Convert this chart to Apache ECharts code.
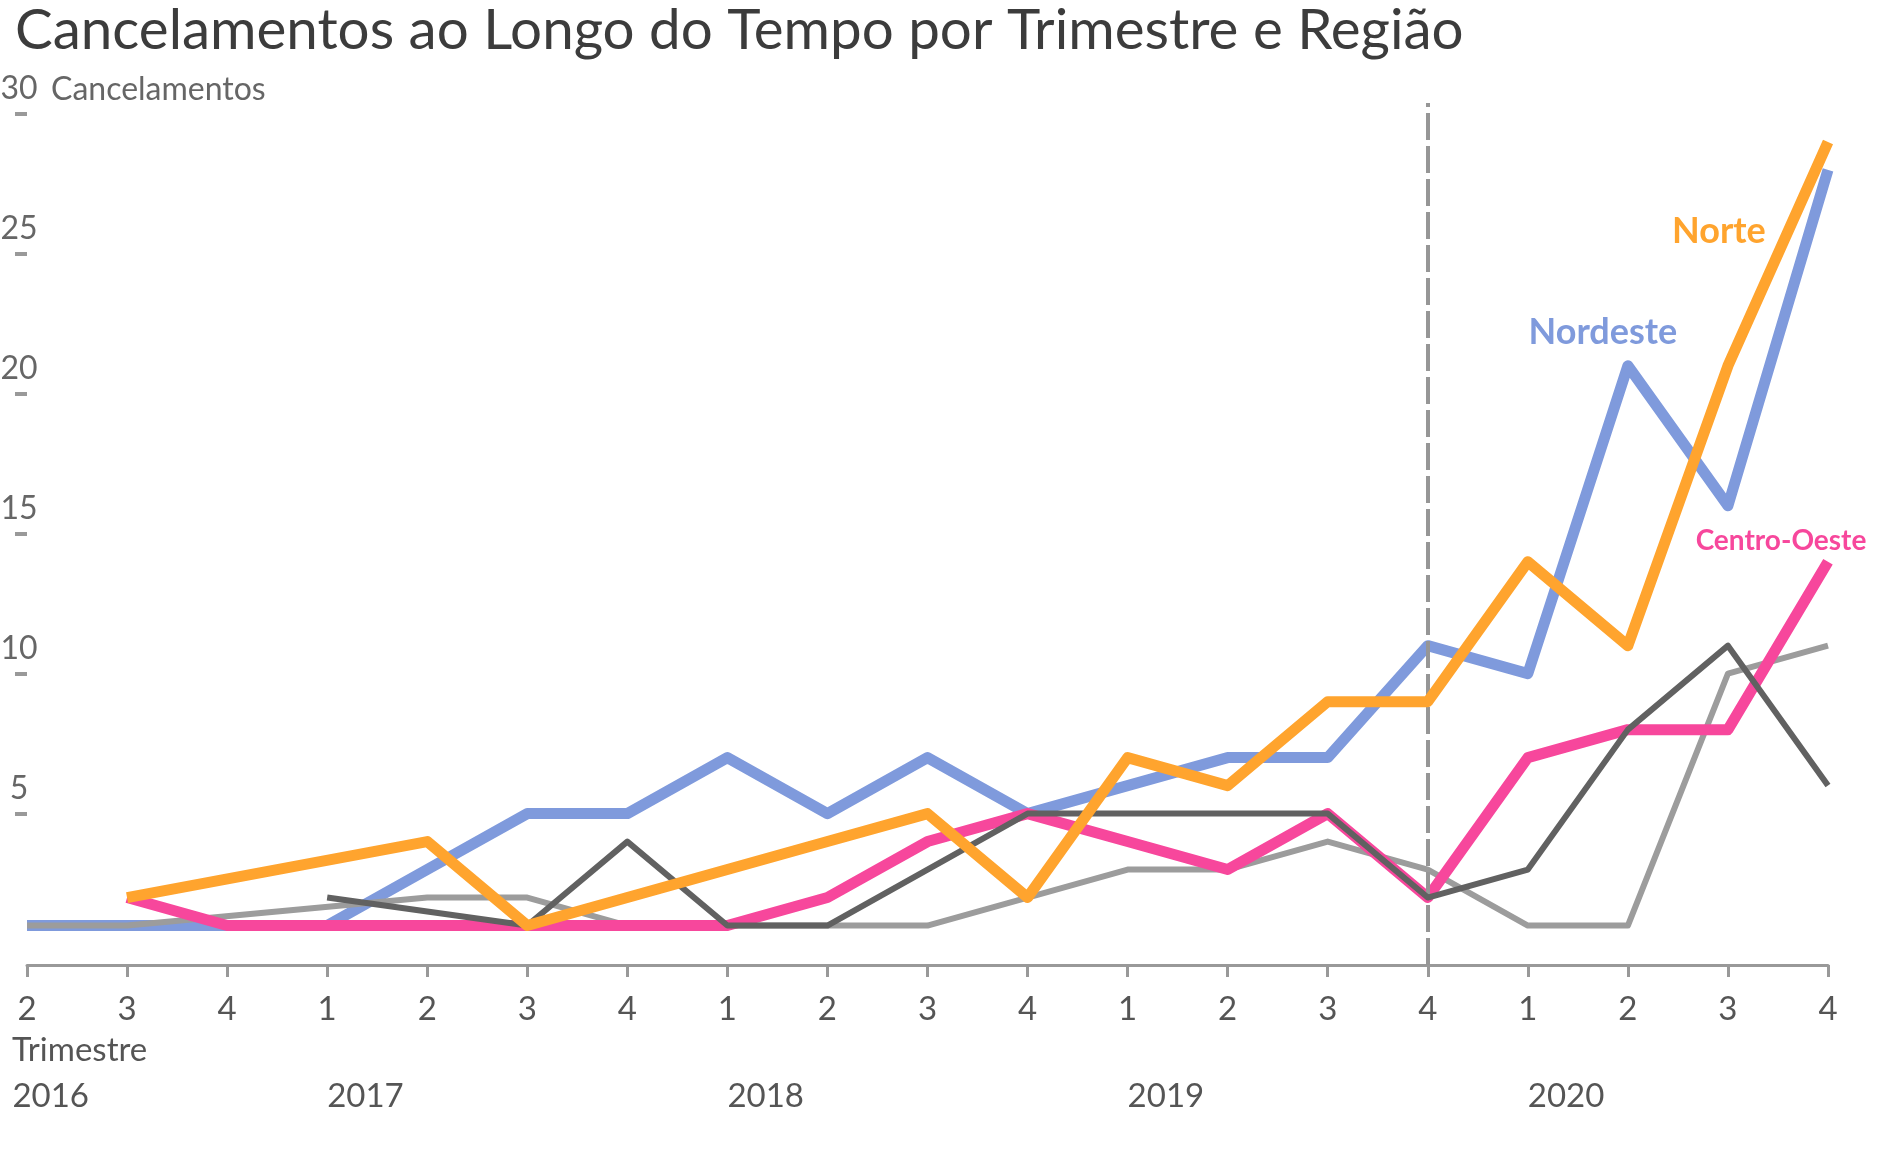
<!DOCTYPE html>
<html>
<head>
<meta charset="utf-8">
<script src="https://cdn.jsdelivr.net/npm/echarts@6/dist/echarts.min.js"></script>
<style>
  html, body { margin: 0; padding: 0; background: #fff; }
  #chart { width: 1894px; height: 1159px; }
</style>
</head>
<body>
<div id="chart"></div>
<script>
// trimestres (eixo x)
const years = [2016, 2016, 2016, 2017, 2017, 2017, 2017, 2018, 2018, 2018, 2018, 2019, 2019, 2019, 2019, 2020, 2020, 2020, 2020]
const quarters = [2, 3, 4, 1, 2, 3, 4, 1, 2, 3, 4, 1, 2, 3, 4, 1, 2, 3, 4]
const yTicks = [5, 10, 15, 20, 25, 30]

// cancelamentos por região
const norte = [null, 2, null, null, 4, 1, 2, 3, 4, 5, 2, 7, 6, 9, 9, 14, 11, 21, 29]
const nordeste = [1, 1, 1, 1, 3, 5, 5, 7, 5, 7, 5, 6, 7, 7, 11, 10, 21, 16, 28]
const centroOeste = [null, 2, 1, 1, 1, 1, 1, 1, 2, 4, 5, 4, 3, 5, 2, 7, 8, 8, 14]
const sudeste = [null, null, null, 2, null, 1, 4, 1, 1, 3, 5, 5, 5, 5, 2, 3, 8, 11, 6]
const sul = [1, 1, null, null, 2, 2, 1, 1, 1, 1, 2, 3, 3, 4, 3, 1, 1, 10, 11]

const categories = years.map((y, i) => y + '-' + quarters[i])
const markIndex = 14 // 2019 T4

const FONT = 'Lato, "Noto Sans", sans-serif'

// põe o rótulo da região num ponto só
function withLabel (values, idx, text, color, size, offset) {
  return values.map((v, i) => {
    if (i !== idx) return v
    return {
      value: v,
      label: {
        show: true,
        position: 'inside',
        offset: offset,
        formatter: text,
        color: color,
        fontFamily: FONT,
        fontWeight: 'bold',
        fontSize: size
      }
    }
  })
}

function lineSeries (name, data, color, width, z) {
  return {
    name: name,
    type: 'line',
    data: data,
    z: z,
    connectNulls: true,
    symbol: 'circle',
    symbolSize: 0.1,
    showSymbol: true,
    showAllSymbol: true,
    silent: true,
    lineStyle: { color: color, width: width, join: 'round', cap: 'butt' },
    itemStyle: { color: 'rgba(0,0,0,0)' },
    emphasis: { disabled: true }
  }
}

const chart = echarts.init(document.getElementById('chart'))
const blue = lineSeries('Nordeste', withLabel(nordeste, 16, 'Nordeste', '#7F9ADC', 36, [-25, -33]), '#7F9ADC', 11, 2)
blue.markLine = {
  silent: true,
  symbol: ['none', 'none'],
  label: { show: false },
  lineStyle: { color: '#969696', width: 4, type: [27, 6] },
  data: [{ xAxis: categories[markIndex] }]
}

chart.setOption({
  animation: false,
  backgroundColor: '#fff',
  title: {
    text: 'Cancelamentos ao Longo do Tempo por Trimestre e Região',
    left: 10,
    top: -3,
    textStyle: { fontFamily: FONT, fontSize: 56.5, fontWeight: 'normal', color: '#3c3c3c' }
  },
  grid: { left: 27, right: 66, top: 103, bottom: 194, containLabel: false, outerBoundsMode: 'none' },
  xAxis: [
    {
      type: 'category',
      data: categories,
      boundaryGap: false,
      axisLine: { onZero: false, lineStyle: { color: '#999', width: 3 } },
      axisTick: { show: true, length: 12, alignWithLabel: true, lineStyle: { color: '#999', width: 3 } },
      axisLabel: {
        interval: 0,
        margin: 28,
        color: '#555',
        fontFamily: FONT,
        fontSize: 33,
        formatter: (v) => v.split('-')[1]
      },
      name: 'Trimestre',
      nameLocation: 'start',
      nameGap: 15,
      nameMoveOverlap: false,
      nameTextStyle: {
        align: 'left',
        verticalAlign: 'top',
        lineHeight: 170,
        color: '#555',
        fontFamily: FONT,
        fontSize: 33
      }
    },
    {
      type: 'category',
      data: categories,
      boundaryGap: false,
      position: 'bottom',
      axisLine: { show: false, onZero: false },
      axisTick: { show: false },
      axisLabel: {
        interval: (i) => i === 0 || quarters[i] === 1,
        margin: 115,
        align: 'left',
        color: '#555',
        fontFamily: FONT,
        fontSize: 33,
        // o primeiro ano fica um pouco à esquerda, como no original
        formatter: (v, i) => i === 0 ? '{first|' + v.split('-')[0] + '}' : v.split('-')[0],
        rich: {
          first: { width: 62, align: 'right', color: '#555', fontFamily: FONT, fontSize: 33 }
        }
      }
    }
  ],
  yAxis: {
    type: 'value',
    min: -0.41,
    max: 30.39,
    splitLine: { show: false },
    axisLine: { show: false },
    axisTick: { show: true, length: 12, customValues: yTicks, lineStyle: { color: '#999', width: 4 } },
    axisLabel: {
      customValues: yTicks,
      align: 'center',
      verticalAlign: 'bottom',
      lineHeight: 50,
      margin: 8,
      color: '#666',
      fontFamily: FONT,
      fontSize: 32
    },
    name: 'Cancelamentos',
    nameLocation: 'end',
    nameGap: 13,
    nameMoveOverlap: false,
    nameTextStyle: {
      align: 'left',
      verticalAlign: 'middle',
      padding: [0, 0, 0, 24],
      color: '#666',
      fontFamily: FONT,
      fontSize: 32
    }
  },
  series: [
    blue,
    lineSeries('Sul', sul, '#9C9C9C', 6, 3),
    lineSeries('Centro-Oeste', withLabel(centroOeste, 18, 'Centro-Oeste', '#F7479C', 28, [-47, -21]), '#F7479C', 11, 4),
    lineSeries('Sudeste', sudeste, '#616161', 6, 5),
    lineSeries('Norte', withLabel(norte, 17, 'Norte', '#FFA42E', 36, [-9, -134]), '#FFA42E', 11, 6)
  ]
})
</script>
</body>
</html>
